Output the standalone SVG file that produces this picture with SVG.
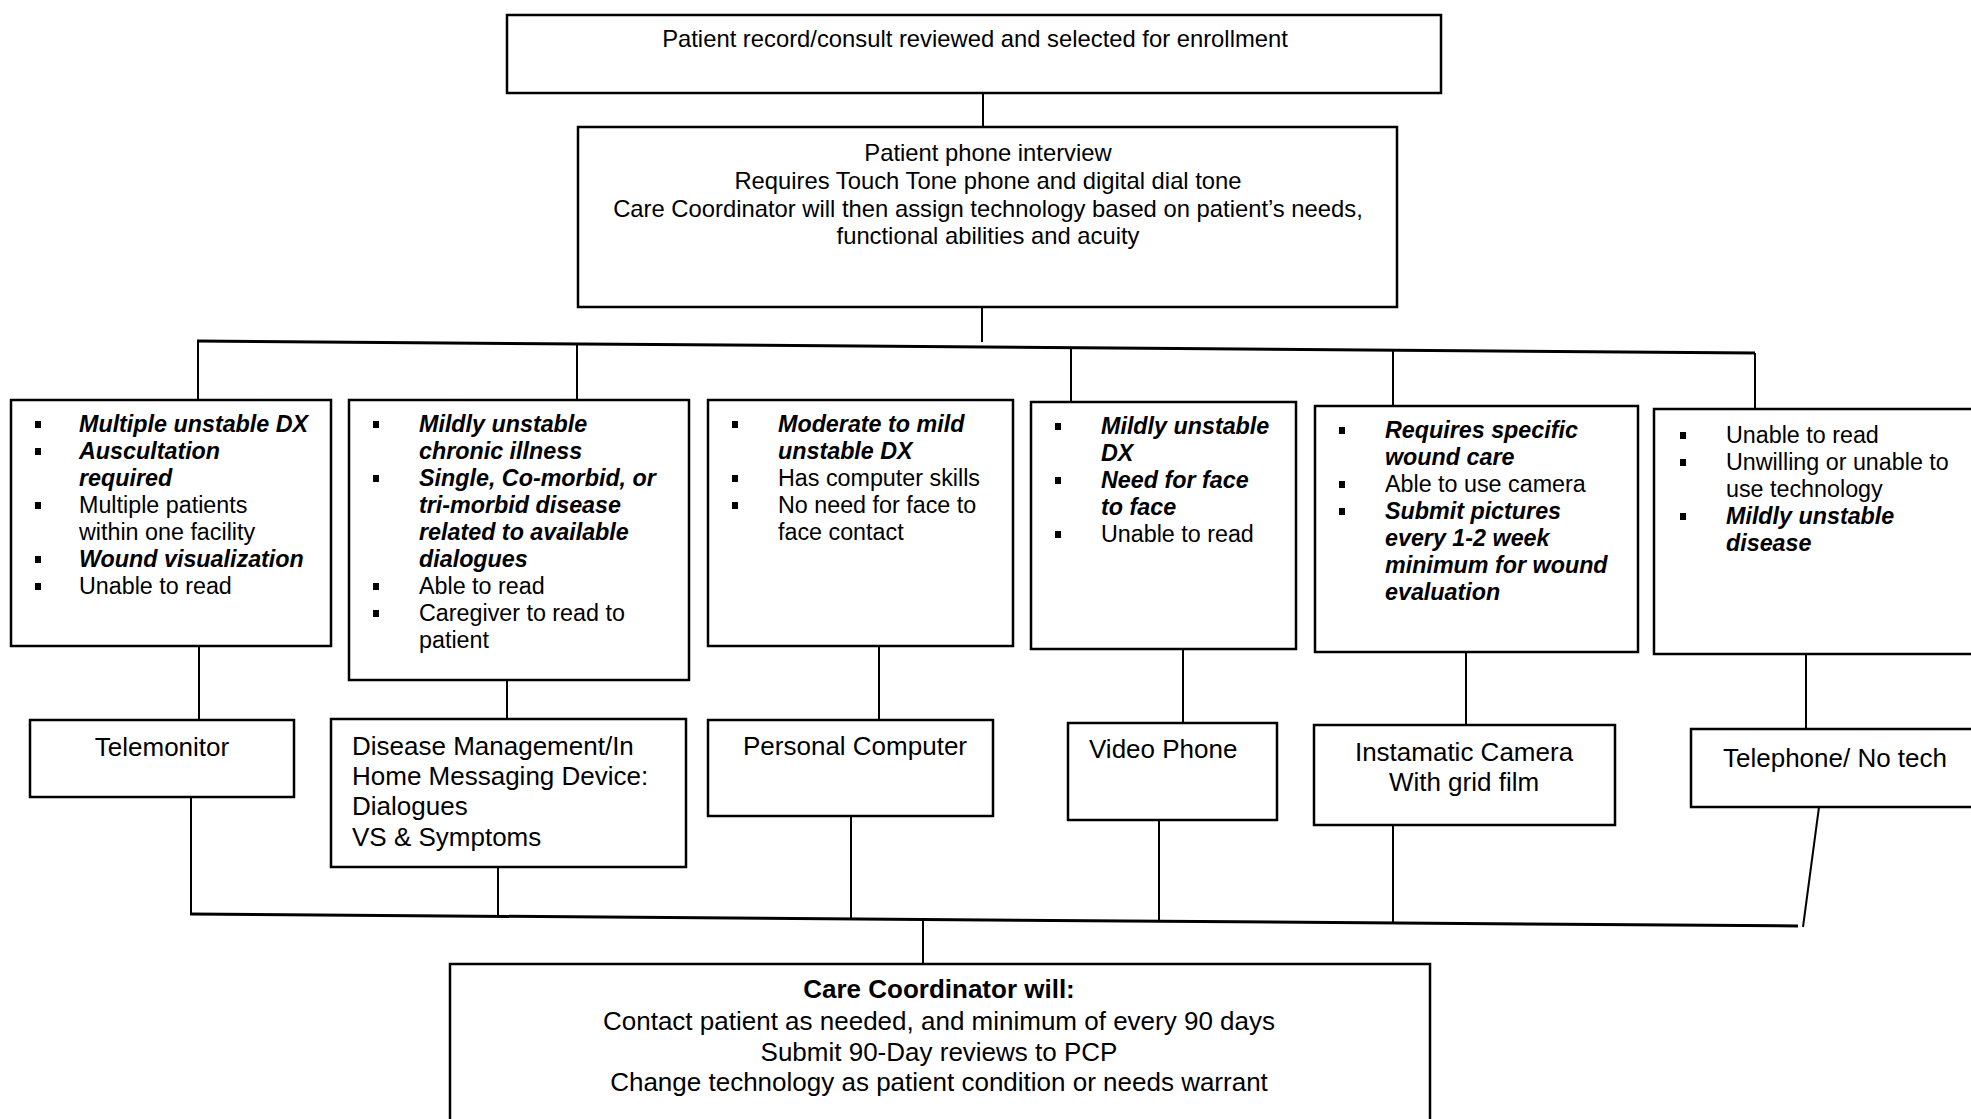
<svg xmlns="http://www.w3.org/2000/svg" width="1971" height="1119" viewBox="0 0 1971 1119">
<style>
  .box { fill: #fff; stroke: #000; stroke-width: 2.5; }
  .ln { fill: none; stroke: #000; stroke-width: 2; }
  .bus { fill: none; stroke: #000; stroke-width: 3; }
  text { font-family: "Liberation Sans", Arial, sans-serif; fill: #000; }
  .t23 { font-size: 23.3px; }
  .t24 { font-size: 23.8px; }
  .t26 { font-size: 26px; }
  .c { text-anchor: middle; }
  .bi { font-weight: bold; font-style: italic; }
  .b { font-weight: bold; }
  .bul { fill: #000; }
</style>
<defs>
  <rect id="bullet" class="bul" x="0" y="0" width="6" height="7"/>
</defs>

<g id="connectors">
  <line class="ln" x1="983" y1="93" x2="983" y2="127"/>
  <line class="ln" x1="982" y1="307" x2="982" y2="342"/>
  <polyline class="bus" points="197,341 1755,353"/>
  <line class="ln" x1="198" y1="341" x2="198" y2="400"/>
  <line class="ln" x1="577" y1="344" x2="577" y2="400"/>
  <line class="ln" x1="1071" y1="347" x2="1071" y2="402"/>
  <line class="ln" x1="1393" y1="350" x2="1393" y2="406"/>
  <line class="ln" x1="1755" y1="353" x2="1755" y2="409"/>
  <line class="ln" x1="199" y1="646" x2="199" y2="720"/>
  <line class="ln" x1="507" y1="680" x2="507" y2="719"/>
  <line class="ln" x1="879" y1="646" x2="879" y2="720"/>
  <line class="ln" x1="1183" y1="649" x2="1183" y2="723"/>
  <line class="ln" x1="1466" y1="652" x2="1466" y2="725"/>
  <line class="ln" x1="1806" y1="654" x2="1806" y2="729"/>
  <line class="ln" x1="191" y1="797" x2="191" y2="914"/>
  <line class="ln" x1="498" y1="867" x2="498" y2="915"/>
  <line class="ln" x1="851" y1="816" x2="851" y2="920"/>
  <line class="ln" x1="1159" y1="820" x2="1159" y2="920"/>
  <line class="ln" x1="1393" y1="825" x2="1393" y2="922"/>
  <line class="ln" x1="1819" y1="807" x2="1803" y2="927"/>
  <polyline class="bus" points="190,914 1798,926"/>
  <line class="ln" x1="923" y1="918" x2="923" y2="964"/>
</g>

<g id="enroll">
  <rect class="box" x="507" y="15" width="934" height="78"/>
  <text class="t24 c" x="975" y="47">Patient record/consult reviewed and selected for enrollment</text>
</g>

<g id="interview">
  <rect class="box" x="578" y="127" width="819" height="180"/>
  <text class="t24 c" x="988" y="161">Patient phone interview</text>
  <text class="t24 c" x="988" y="189">Requires Touch Tone phone and digital dial tone</text>
  <text class="t24 c" x="988" y="217">Care Coordinator will then assign technology based on patient’s needs,</text>
  <text class="t24 c" x="988" y="244">functional abilities and acuity</text>
</g>

<g id="criteria-telemonitor">
  <rect class="box" x="11" y="400" width="320" height="246"/>
  <use href="#bullet" x="35" y="421"/>
  <text class="t23 bi" x="79" y="432">Multiple unstable DX</text>
  <use href="#bullet" x="35" y="448"/>
  <text class="t23 bi" x="79" y="459">Auscultation</text>
  <text class="t23 bi" x="79" y="486">required</text>
  <use href="#bullet" x="35" y="502"/>
  <text class="t23" x="79" y="513">Multiple patients</text>
  <text class="t23" x="79" y="540">within one facility</text>
  <use href="#bullet" x="35" y="556"/>
  <text class="t23 bi" x="79" y="567">Wound visualization</text>
  <use href="#bullet" x="35" y="583"/>
  <text class="t23" x="79" y="594">Unable to read</text>
</g>

<g id="criteria-dm">
  <rect class="box" x="349" y="400" width="340" height="280"/>
  <use href="#bullet" x="373" y="421"/>
  <text class="t23 bi" x="419" y="432">Mildly unstable</text>
  <text class="t23 bi" x="419" y="459">chronic illness</text>
  <use href="#bullet" x="373" y="475"/>
  <text class="t23 bi" x="419" y="486">Single, Co-morbid, or</text>
  <text class="t23 bi" x="419" y="513">tri-morbid disease</text>
  <text class="t23 bi" x="419" y="540">related to available</text>
  <text class="t23 bi" x="419" y="567">dialogues</text>
  <use href="#bullet" x="373" y="583"/>
  <text class="t23" x="419" y="594">Able to read</text>
  <use href="#bullet" x="373" y="610"/>
  <text class="t23" x="419" y="621">Caregiver to read to</text>
  <text class="t23" x="419" y="648">patient</text>
</g>

<g id="criteria-pc">
  <rect class="box" x="708" y="400" width="305" height="246"/>
  <use href="#bullet" x="732" y="421"/>
  <text class="t23 bi" x="778" y="432">Moderate to mild</text>
  <text class="t23 bi" x="778" y="459">unstable DX</text>
  <use href="#bullet" x="732" y="475"/>
  <text class="t23" x="778" y="486">Has computer skills</text>
  <use href="#bullet" x="732" y="502"/>
  <text class="t23" x="778" y="513">No need for face to</text>
  <text class="t23" x="778" y="540">face contact</text>
</g>

<g id="criteria-videophone">
  <rect class="box" x="1031" y="402" width="265" height="247"/>
  <use href="#bullet" x="1055" y="423"/>
  <text class="t23 bi" x="1101" y="434">Mildly unstable</text>
  <text class="t23 bi" x="1101" y="461">DX</text>
  <use href="#bullet" x="1055" y="477"/>
  <text class="t23 bi" x="1101" y="488">Need for face</text>
  <text class="t23 bi" x="1101" y="515">to face</text>
  <use href="#bullet" x="1055" y="531"/>
  <text class="t23" x="1101" y="542">Unable to read</text>
</g>

<g id="criteria-camera">
  <rect class="box" x="1315" y="406" width="323" height="246"/>
  <use href="#bullet" x="1339" y="427"/>
  <text class="t23 bi" x="1385" y="438">Requires specific</text>
  <text class="t23 bi" x="1385" y="465">wound care</text>
  <use href="#bullet" x="1339" y="481"/>
  <text class="t23" x="1385" y="492">Able to use camera</text>
  <use href="#bullet" x="1339" y="508"/>
  <text class="t23 bi" x="1385" y="519">Submit pictures</text>
  <text class="t23 bi" x="1385" y="546">every 1-2 week</text>
  <text class="t23 bi" x="1385" y="573">minimum for wound</text>
  <text class="t23 bi" x="1385" y="600">evaluation</text>
</g>

<g id="criteria-telephone">
  <rect class="box" x="1654" y="409" width="340" height="245"/>
  <use href="#bullet" x="1680" y="432"/>
  <text class="t23" x="1726" y="443">Unable to read</text>
  <use href="#bullet" x="1680" y="459"/>
  <text class="t23" x="1726" y="470">Unwilling or unable to</text>
  <text class="t23" x="1726" y="497">use technology</text>
  <use href="#bullet" x="1680" y="513"/>
  <text class="t23 bi" x="1726" y="524">Mildly unstable</text>
  <text class="t23 bi" x="1726" y="551">disease</text>
</g>

<g id="tech-telemonitor">
  <rect class="box" x="30" y="720" width="264" height="77"/>
  <text class="t26 c" x="162" y="756">Telemonitor</text>
</g>

<g id="tech-dm">
  <rect class="box" x="331" y="719" width="355" height="148"/>
  <text class="t26" x="352" y="755">Disease Management/In</text>
  <text class="t26" x="352" y="785">Home Messaging Device:</text>
  <text class="t26" x="352" y="815">Dialogues</text>
  <text class="t26" x="352" y="846">VS &amp; Symptoms</text>
</g>

<g id="tech-pc">
  <rect class="box" x="708" y="720" width="285" height="96"/>
  <text class="t26 c" x="855" y="755">Personal Computer</text>
</g>

<g id="tech-videophone">
  <rect class="box" x="1068" y="723" width="209" height="97"/>
  <text class="t26" x="1089" y="758">Video Phone</text>
</g>

<g id="tech-camera">
  <rect class="box" x="1314" y="725" width="301" height="100"/>
  <text class="t26 c" x="1464" y="761">Instamatic Camera</text>
  <text class="t26 c" x="1464" y="791">With grid film</text>
</g>

<g id="tech-telephone">
  <rect class="box" x="1691" y="729" width="300" height="78"/>
  <text class="t26 c" x="1835" y="767">Telephone/ No tech</text>
</g>

<g id="care-coordinator">
  <rect class="box" x="450" y="964" width="980" height="165"/>
  <text class="t26 c b" x="939" y="998">Care Coordinator will:</text>
  <text class="t26 c" x="939" y="1030">Contact patient as needed, and minimum of every 90 days</text>
  <text class="t26 c" x="939" y="1061">Submit 90-Day reviews to PCP</text>
  <text class="t26 c" x="939" y="1091">Change technology as patient condition or needs warrant</text>
</g>
</svg>
